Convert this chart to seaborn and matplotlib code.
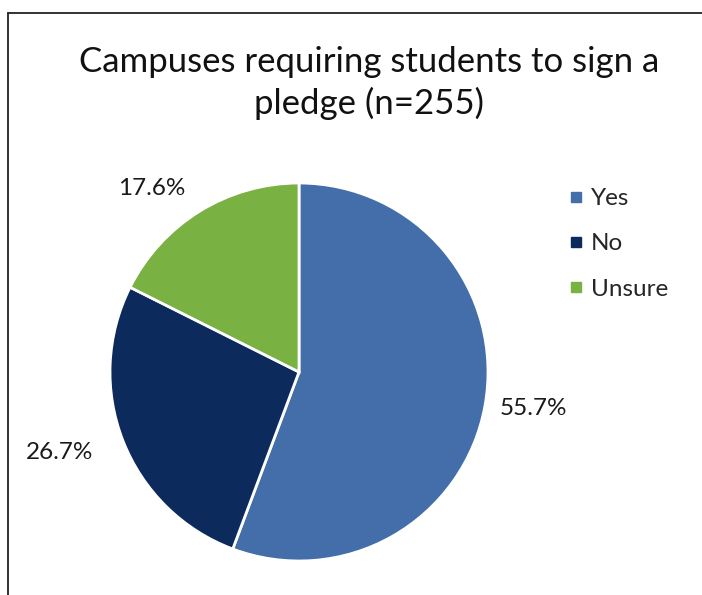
import matplotlib
matplotlib.use("Agg")
import matplotlib.pyplot as plt
import seaborn as sns
import numpy as np
from matplotlib.lines import Line2D

# data
categories = ["Yes", "No", "Unsure"]
shares = [55.7, 26.7, 17.6]
title = "Campuses requiring students to sign a\npledge (n=255)"

colors = ["#436EAA", "#0C2A5B", "#79B143"]
label_radius = [1.08, 1.17, 1.14]

sns.set_theme(style="white")
plt.rcParams['font.family'] = ['Lato', 'DejaVu Sans']

fig = plt.figure(figsize=(7.02, 5.95), dpi=100)
ax = fig.add_axes([110 / 702, 34 / 595, 378 / 702, 378 / 595])

wedges, _ = ax.pie(shares, colors=colors, startangle=90, counterclock=False,
                   wedgeprops=dict(edgecolor="white", linewidth=2))
ax.set_xlim(-1, 1)
ax.set_ylim(-1, 1)
ax.set_aspect("equal")

for w, val, r in zip(wedges, shares, label_radius):
    mid = np.deg2rad((w.theta1 + w.theta2) / 2)
    x, y = r * np.cos(mid), r * np.sin(mid)
    ax.text(x, y, f"{val:.1f}%", ha="left" if x > 0 else "right",
            va="center", fontsize=17.5, color="#1a1a1a", clip_on=False)

fig.text(369 / 702, 1 - 83 / 595, title, ha="center", va="center",
         fontsize=25, linespacing=1.33, color="#111111")

handles = [Line2D([0], [0], marker="s", linestyle="", markersize=6.5,
                  markerfacecolor=c, markeredgecolor=c) for c in colors]
fig.legend(handles, categories, loc="upper left",
           bbox_to_anchor=(569 / 702, 1 - 188 / 595), frameon=False,
           fontsize=17.5, handlelength=0.55, handletextpad=0.35,
           labelspacing=1.0, borderpad=0, borderaxespad=0)

# chart border (top and left edges visible)
fig.add_artist(Line2D([8 / 702, 8 / 702], [0, 1 - 13 / 595],
                      transform=fig.transFigure, color="#222222", lw=1.3))
fig.add_artist(Line2D([8 / 702, 1], [1 - 13 / 595, 1 - 13 / 595],
                      transform=fig.transFigure, color="#222222", lw=1.3))

fig.savefig("out.png", dpi=100)
